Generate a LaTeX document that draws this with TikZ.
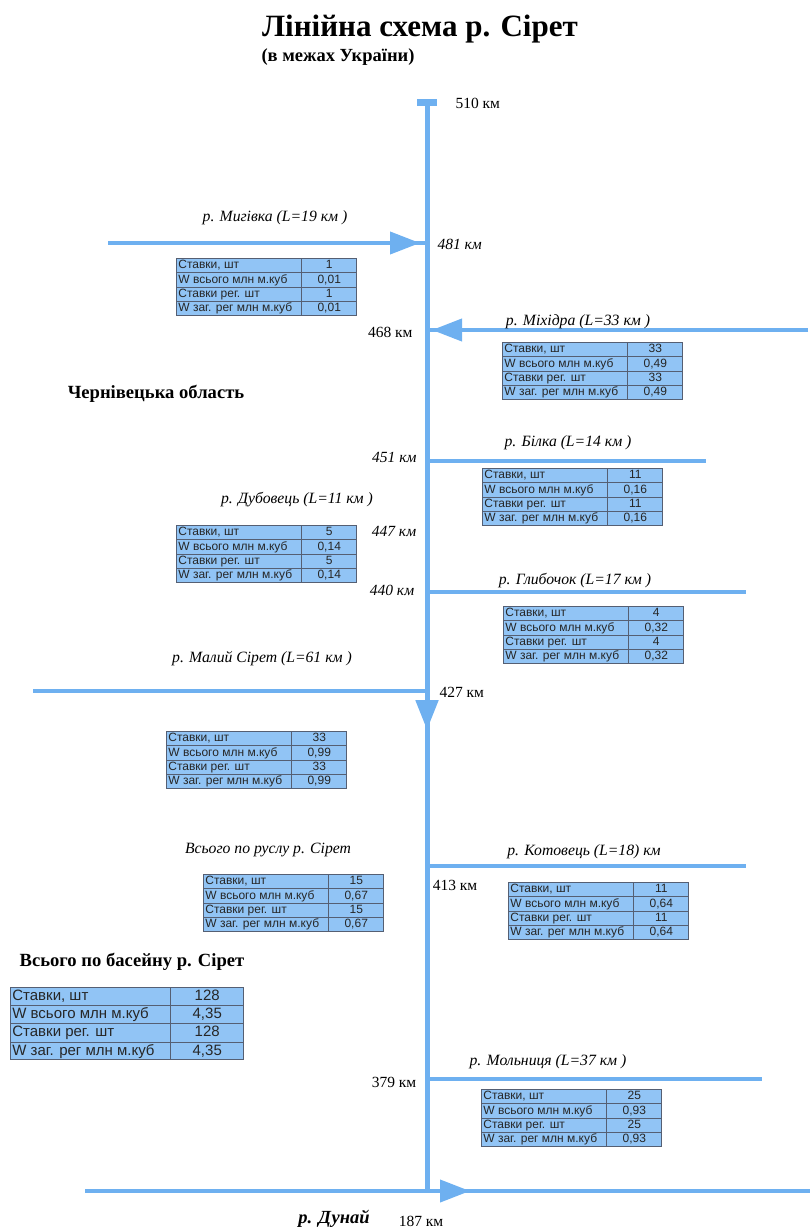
\documentclass[tikz,border=0pt]{standalone}
\usepackage{fontspec}
\setmainfont{Liberation Serif}
\setsansfont{Liberation Sans}
\usepackage[table]{xcolor}
\usepackage{array}
\usepackage{graphicx}
\usetikzlibrary{arrows.meta,positioning}
\definecolor{rivercol}{RGB}{110,176,240}
\definecolor{tabfill}{RGB}{145,196,245}
\definecolor{tabline}{RGB}{85,95,115}
\tikzset{
    node distance=2cm,
    }
\setlength{\extrarowheight}{2pt}
% table of ponds: left width, right width, count, volume
\newcommand{\stavtab}[4]{%
\arrayrulecolor{tabline}%
\begin{tabular}{@{\hspace{2pt}}wl{#1}@{}|@{}wc{#2}@{}}
Ставки, шт & #3\\\hline
W всього млн м.куб & #4\\\hline
Ставки рег. шт & #3\\\hline
W заг. рег млн м.куб & #4
\end{tabular}}

\begin{document}
\begin{tikzpicture}[x=1pt,y=-1pt,
mainriver/.style={draw=rivercol, line width=5pt},
trib/.style={draw=rivercol, line width=4pt},
flow/.style={draw=rivercol, line width=4pt, -{Triangle[length=30pt,width=22pt]}},
tablo/.style={anchor=north west, inner sep=0pt, fill=tabfill, draw=tabline, line width=0.7pt,
  font=\sffamily\fontsize{12}{12}\selectfont, text=black!85},
bigtablo/.style={tablo, font=\sffamily\fontsize{15}{15.8}\selectfont},
rname/.style={font=\itshape\fontsize{15.7}{18}\selectfont},
km/.style={font=\fontsize{15.5}{17}\selectfont},
kmit/.style={font=\itshape\fontsize{15.5}{17}\selectfont},
bold/.style={font=\bfseries\fontsize{18.6}{21}\selectfont},
]
\useasboundingbox (0,0) rectangle (810,1228);

\node[font=\bfseries\fontsize{31}{35}\selectfont] (title) at (420,29) {Лінійна схема р. Сірет};
\node[font=\bfseries\fontsize{18.5}{21}\selectfont, anchor=west] (subtitle) at (258,57) {(в межах України)};

% junctions on the main river
\coordinate (src) at (427,103);
\coordinate (j481) at (427,243);
\coordinate (j468) at (427,330);
\coordinate (j451) at (427,461);
\coordinate (j440) at (427,592);
\coordinate (j427) at (427,691);
\coordinate (j413) at (427,866);
\coordinate (j379) at (427,1079);
\coordinate (mouth) at (427,1191);

% free ends of the tributaries
\coordinate (mygivka) at (108,243);
\coordinate (mikhidra) at (808,330);
\coordinate (bilka) at (706,461);
\coordinate (hlybochok) at (746,592);
\coordinate (malyi) at (33,691);
\coordinate (kotovets) at (746,866);
\coordinate (molnytsia) at (762,1079);
\coordinate (dunaiW) at (85,1191);
\coordinate (dunaiE) at (810,1191);

\draw[mainriver] (src) -- (mouth);
\draw[rivercol, line width=7pt] ([xshift=-10pt]src) -- ([xshift=10pt]src);
\draw[flow, line width=5pt] (src) -- ([yshift=-39pt]j427);

\draw[trib] (mygivka) -- (j481);
\draw[flow] (mygivka) -- ([xshift=-7pt]j481);
\draw[trib] (mikhidra) -- (j468);
\draw[flow] (mikhidra) -- ([xshift=5pt]j468);
\draw[trib] (j451) -- (bilka);
\draw[trib] (j440) -- (hlybochok);
\draw[trib] (malyi) -- (j427);
\draw[trib] (j413) -- (kotovets);
\draw[trib] (j379) -- (molnytsia);
\draw[trib] (dunaiW) -- (dunaiE);
\draw[flow] (dunaiW) -- ([xshift=43pt]mouth);

\node[km, anchor=west] (k510) at (452,103) {510 км};
\node[kmit, anchor=west] (k481) at (434,244) {481 км};
\node[km, anchor=east] (k468) at (416,332) {468 км};
\node[kmit, anchor=east] (k451) at (420,457) {451 км};
\node[kmit] (k447) at (394,531) {447 км};
\node[kmit] (k440) at (392,590) {440 км};
\node[km, anchor=west] (k427) at (436,692) {427 км};
\node[km] (k413) at (455,885) {413 км};
\node[km] (k379) at (394,1082) {379 км};
\node[km] (k187) at (421,1221) {187 км};

\node[rname] (lmygivka) at (275,218) {р. Мигівка (L=19 км )};
\node[rname] (lmikhidra) at (578,322) {р. Міхідра (L=33 км )};
\node[rname] (lbilka) at (568,443) {р. Білка (L=14 км )};
\node[rname] (ldubovets) at (297,500) {р. Дубовець (L=11 км )};
\node[rname] (lhlybochok) at (575,581) {р. Глибочок (L=17 км )};
\node[rname] (lmalyi) at (262,659) {р. Малий Сірет (L=61 км )};
\node[rname] (lrusl) at (268,850) {Всього по руслу р. Сірет};
\node[rname] (lkotovets) at (584,852) {р. Котовець (L=18) км};
\node[rname] (lmolnytsia) at (548,1062) {р. Мольниця (L=37 км )};
\node[font=\bfseries\itshape\fontsize{18.5}{21}\selectfont] (ldunai) at (334,1219) {р. Дунай};

\node[bold] (oblast) at (156,394) {Чернівецька область};
\node[bold] (basin) at (132,962) {Всього по басейну р. Сірет};

\node[tablo] (tmygivka) at (176,258) {\stavtab{123pt}{55pt}{1}{0,01}};
\node[tablo] (tmikhidra) at (502,342) {\stavtab{123pt}{55pt}{33}{0,49}};
\node[tablo] (tbilka) at (482,468) {\stavtab{123pt}{55pt}{11}{0,16}};
\node[tablo] (tdubovets) at (176,525) {\stavtab{123pt}{55pt}{5}{0,14}};
\node[tablo] (thlybochok) at (503,606) {\stavtab{123pt}{55pt}{4}{0,32}};
\node[tablo] (tmalyi) at (166,731) {\stavtab{123pt}{55pt}{33}{0,99}};
\node[tablo] (trusl) at (203,874) {\stavtab{123pt}{55pt}{15}{0,67}};
\node[tablo] (tkotovets) at (508,882) {\stavtab{123pt}{55pt}{11}{0,64}};
\node[bigtablo] (tbasin) at (10,987) {\stavtab{158pt}{73pt}{128}{4,35}};
\node[tablo] (tmolnytsia) at (481,1089) {\stavtab{123pt}{55pt}{25}{0,93}};
\end{tikzpicture}
\end{document}
